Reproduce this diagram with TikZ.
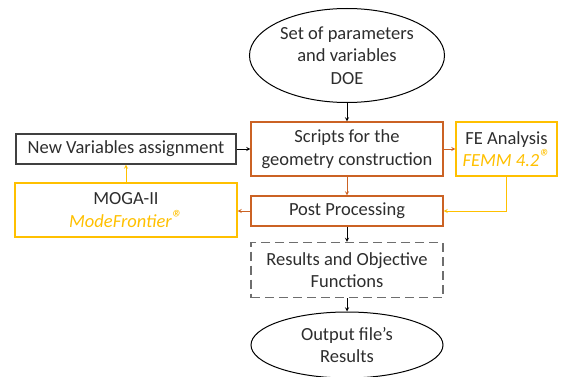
\documentclass[tikz,border=0pt]{standalone}
\usepackage{fontspec}
\setmainfont{Carlito}
\usepackage{tikz}
\usetikzlibrary{arrows,shapes,positioning}
\usepackage{xcolor}
\definecolor{mfOrange}{RGB}{203,98,36}
\definecolor{mfYellow}{RGB}{255,192,0}
\definecolor{mfGray}{RGB}{64,64,64}
\definecolor{mfDash}{RGB}{110,110,110}
\definecolor{mfText}{RGB}{45,45,45}
\newcommand{\regmark}{\raisebox{0.2ex}{\fontsize{22}{22}\selectfont ®}}
\tikzstyle{arrow} = [line width=0.9pt,->,>=stealth]
\tikzstyle{box} = [rectangle, align=center, text=mfText, line width=1.1pt, inner sep=0pt, font=\fontsize{18.5}{22.5}\selectfont]
\tikzstyle{process} = [box, draw=mfOrange, minimum width=192pt]
\tikzstyle{tool} = [box, draw=mfYellow, minimum height=54pt]
\tikzstyle{terminal} = [ellipse, align=center, text=mfText, draw=black, line width=1pt, inner sep=0pt, font=\fontsize{18.5}{22.5}\selectfont]

\begin{document}
\begin{tikzpicture}[x=1pt, y=1pt]
\useasboundingbox (0,0) rectangle (571,376);
% main flow
\node (doe) [terminal, minimum width=195pt, minimum height=94pt] at (347,320.5) {Set of parameters\\and variables\\DOE};
\node (scripts) [process, minimum height=54pt] at (347,227) {Scripts for the\\geometry construction};
\node (post) [process, minimum height=30pt] at (347,165) {Post Processing};
\node (results) [process, draw=mfDash, dashed, dash pattern=on 9pt off 5pt, minimum height=55pt] at (347,106) {Results and Objective\\Functions};
\node (output) [terminal, minimum width=192pt, minimum height=66pt] at (347,31) {Output file’s\\Results};

% side loop
\node (fe) [tool, minimum width=101pt] at (506.5,227) {FE Analysis\\\textcolor{mfYellow}{\itshape FEMM 4.2\regmark}};
\node (moga) [tool, minimum width=222pt] at (126,166) {MOGA-II\\\textcolor{mfYellow}{\itshape ModeFrontier\regmark}};
\node (newvar) [box, draw=mfGray, minimum width=220pt, minimum height=30pt] at (126,227) {New Variables assignment};

\draw[arrow] (doe) -- (scripts);
\draw[arrow, mfOrange] (scripts) -- (post);
\draw[arrow] (post) -- (results);
\draw[arrow] (results) -- (output);
\draw[arrow, mfOrange] (scripts) -- (fe);
\draw[arrow, mfYellow] (fe.south) |- (post.east);
\draw[arrow, mfOrange] (post.west) -- (post.west -| moga.east);
\draw[arrow, mfYellow] (moga) -- (newvar);
\draw[arrow] (newvar) -- (scripts);
\end{tikzpicture}
\end{document}
